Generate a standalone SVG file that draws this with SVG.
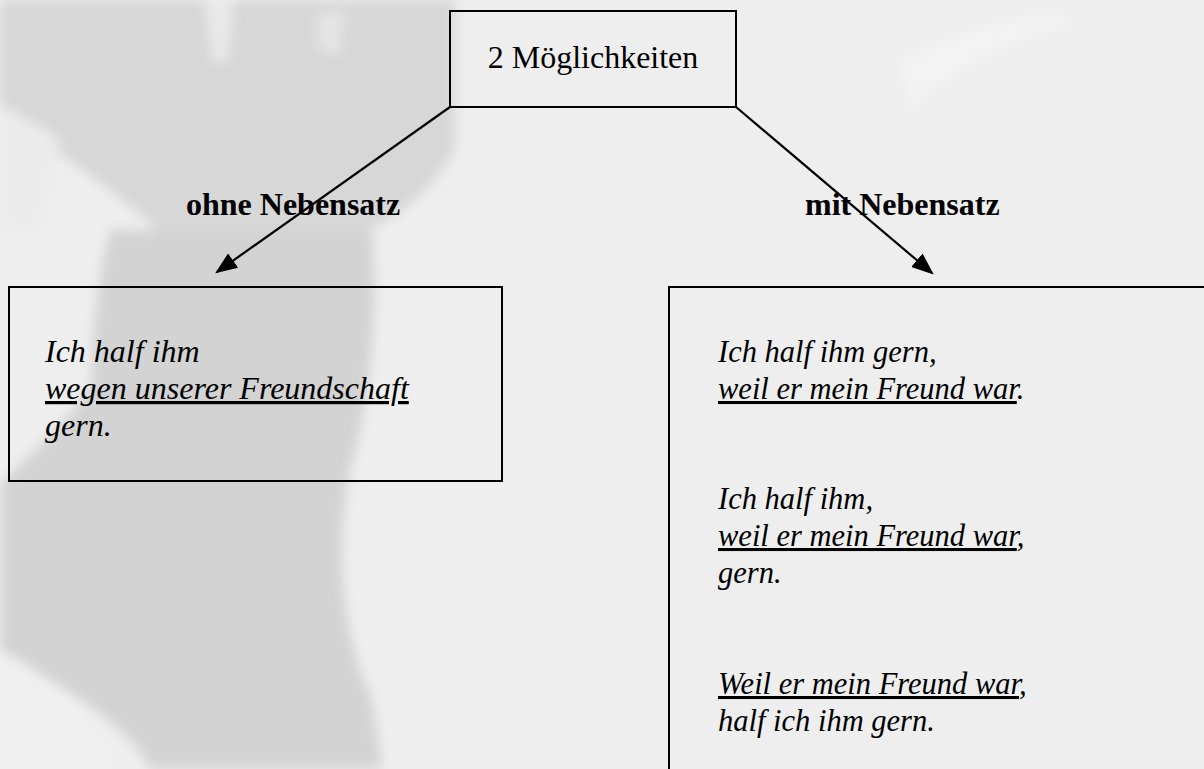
<svg xmlns="http://www.w3.org/2000/svg" width="1204" height="769" viewBox="0 0 1204 769">
  <defs>
    <filter id="soft" x="-20%" y="-20%" width="140%" height="140%">
      <feGaussianBlur stdDeviation="6"/>
    </filter>
    <marker id="arrow" markerWidth="10" markerHeight="8" refX="9" refY="4" orient="auto" markerUnits="strokeWidth">
      <path d="M0,0 L10,4 L0,8 Z" fill="#000"/>
    </marker>
    <style>
      .box { fill: none; stroke: #000; stroke-width: 2; }
      .conn { fill: none; stroke: #000; stroke-width: 2.2; marker-end: url(#arrow); }
      .title { font-family: "Liberation Serif", "Times New Roman", serif; font-size: 32px; fill: #000; }
      .label { font-family: "Liberation Serif", "Times New Roman", serif; font-size: 32px; font-weight: bold; fill: #000; }
      .ex { font-family: "Liberation Serif", "Times New Roman", serif; font-style: italic; fill: #000; }
      .u { text-decoration: underline; }
    </style>
  </defs>

  <!-- background with faint angel silhouette -->
  <rect x="0" y="0" width="1204" height="769" fill="#eeeeee"/>
  <g id="background" filter="url(#soft)">
    <path d="M0,0 L455,0 L455,150 C425,200 385,230 335,240 L170,240 C130,205 80,165 30,135 L0,125 Z" fill="#d7d7d7"/>
    <path d="M0,105 C20,115 40,125 60,140 L40,230 L0,230 Z" fill="#ebebeb"/>
    <path d="M205,0 L234,0 L228,62 L212,62 Z" fill="#e9e9e9"/>
    <path d="M315,15 L345,10 L340,55 L318,50 Z" fill="#e4e4e4"/>
    <path d="M110,230 L372,230 C378,300 372,400 350,470 C337,540 337,620 372,700 L382,769 L150,769 C130,722 60,690 20,660 L0,650 L0,485 C30,455 65,425 92,385 C92,320 100,270 110,230 Z" fill="#d3d3d3"/>
    <path d="M0,655 C40,670 90,700 120,769 L0,769 Z" fill="#f0f0f0"/>
    <path d="M900,60 C940,40 1000,20 1060,10 L1070,25 C1010,40 950,70 910,110 Z" fill="#f3f3f3"/>
  </g>

  <g id="root">
    <rect class="box" x="450" y="11" width="286" height="96"/>
    <text class="title" x="593" y="68" text-anchor="middle">2 Möglichkeiten</text>
  </g>

  <g id="connectors">
    <line class="conn" x1="450" y1="107" x2="217" y2="272"/>
    <line class="conn" x1="736" y1="107" x2="932" y2="273"/>
  </g>

  <g id="label-ohne">
    <text class="label" x="186" y="215">ohne Nebensatz</text>
  </g>
  <g id="label-mit">
    <text class="label" x="805" y="215">mit Nebensatz</text>
  </g>

  <g id="box-ohne">
    <rect class="box" x="9" y="287" width="493" height="194"/>
    <text class="ex" font-size="32" x="45" y="362">Ich half ihm</text>
    <text class="ex" font-size="32" x="45" y="399"><tspan class="u">wegen unserer Freundschaft</tspan></text>
    <text class="ex" font-size="32" x="45" y="436">gern.</text>
  </g>

  <g id="box-mit">
    <rect class="box" x="669" y="287" width="545" height="500"/>
    <text class="ex" font-size="30.5" x="718" y="362">Ich half ihm gern,</text>
    <text class="ex" font-size="30.5" x="718" y="399"><tspan class="u">weil er mein Freund war</tspan>.</text>
    <text class="ex" font-size="30.5" x="718" y="509">Ich half ihm,</text>
    <text class="ex" font-size="30.5" x="718" y="546"><tspan class="u">weil er mein Freund war</tspan>,</text>
    <text class="ex" font-size="30.5" x="718" y="583">gern.</text>
    <text class="ex" font-size="30.5" x="718" y="694"><tspan class="u">Weil er mein Freund war</tspan>,</text>
    <text class="ex" font-size="30.5" x="718" y="731">half ich ihm gern.</text>
  </g>
</svg>
